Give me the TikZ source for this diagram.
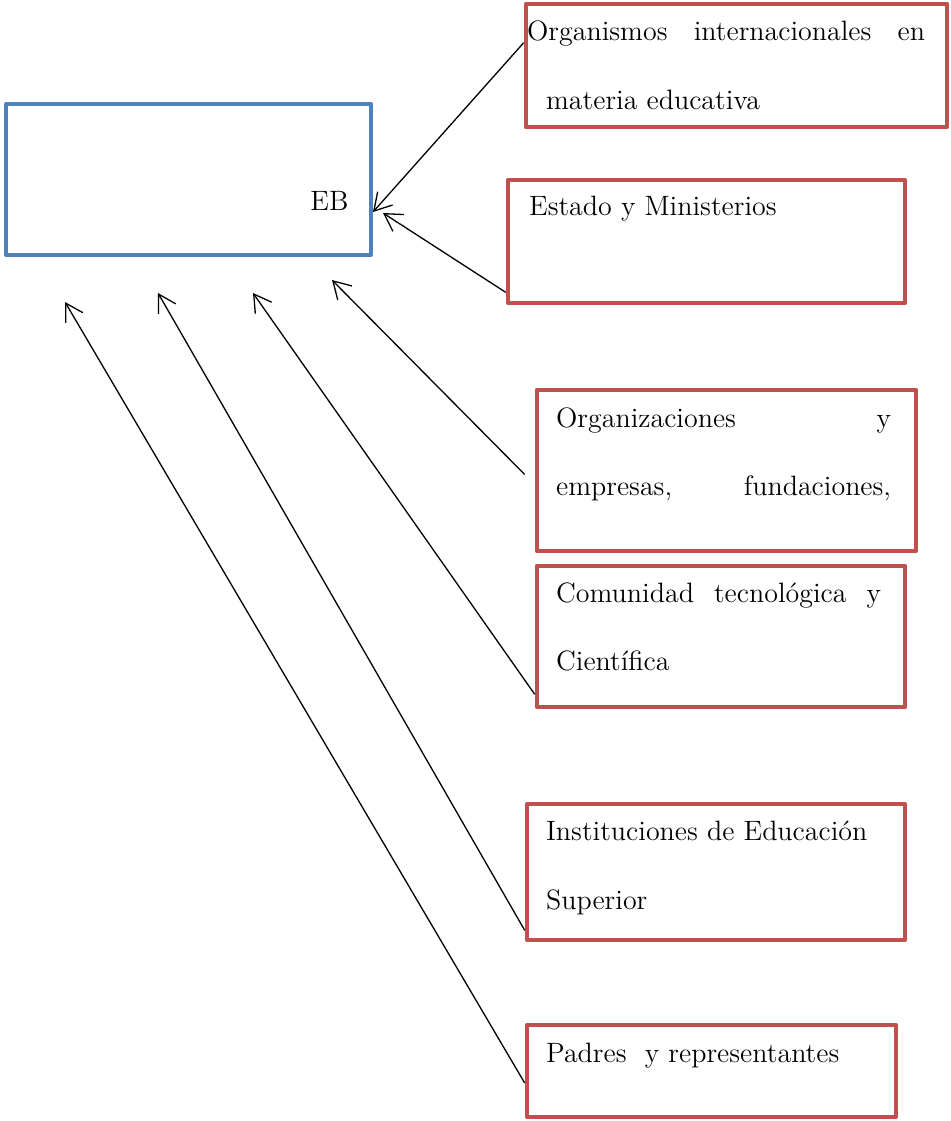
\documentclass[tikz,border=0pt]{standalone}
\usepackage{tikz}
\usetikzlibrary{calc}
\usetikzlibrary{arrows.meta}
\usetikzlibrary{positioning}
\usetikzlibrary{fit}
\definecolor{ebblue}{RGB}{79,129,189}
\definecolor{actred}{RGB}{192,80,77}
\tikzset{ebbox/.style={rectangle,draw=ebblue,line width=2pt,inner sep=0pt,line join=round}}
\tikzset{actor/.style={rectangle,draw=actred,line width=2.3pt,inner sep=0pt,line join=round}}
\tikzset{txt/.style={anchor=base west,inner sep=0pt,font=\fontsize{14}{17}\selectfont}}
\tikzset{infl/.style={line width=0.65pt,-{Straight Barb[length=8.5pt,width=10pt]}}}

\begin{document}
\begin{tikzpicture}[x=0.5pt,y=-0.5pt]
\useasboundingbox (0,0) rectangle (951,1121);

\node[ebbox, fit={(6,104) (371,255)}] (EB) {};
\node[txt] (EBt) at ($ (EB.north west) + (306,108) $) {EB};

\node[actor, fit={(526,4) (947,127)}] (A1) {};
\node[txt] (t1a) at ($ (A1.north west) + (3,39) $) {\makebox[199pt][s]{Organismos internacionales en}};
\node[txt] (t1b) at ($ (A1.north west) + (22,108) $) {materia educativa};

\node[actor, fit={(508,180) (905,303)}] (A2) {};
\node[txt] (t2a) at ($ (A2.north west) + (23,38) $) {Estado y Ministerios};

\node[actor, fit={(537,390) (916,551)}] (A3) {};
\node[txt] (t3a) at ($ (A3.north west) + (21,40) $) {\makebox[167.5pt][s]{Organizaciones y}};
\node[txt] (t3b) at ($ (A3.north west) + (21,108) $) {\makebox[167.5pt][s]{empresas, fundaciones,}};

\node[actor, fit={(537,566) (905,707)}] (A4) {};
\node[txt] (t4a) at ($ (A4.north west) + (21,39) $) {\makebox[162.5pt][s]{Comunidad tecnológica y}};
\node[txt] (t4b) at ($ (A4.north west) + (21,107) $) {Científica};

\node[actor, fit={(527,804) (905,940)}] (A5) {};
\node[txt] (t5a) at ($ (A5.north west) + (21,39) $) {Instituciones de Educación};
\node[txt] (t5b) at ($ (A5.north west) + (21,108) $) {Superior};

\node[actor, fit={(527,1025) (896,1117)}] (A6) {};
\node[txt] (t6a) at ($ (A6.north west) + (21,40) $) {Padres\ \ y representantes};

% puntas de flecha junto a EB
\coordinate (p1) at (373,212);
\coordinate (p2) at (383,213);
\coordinate (p3) at (332,280);
\coordinate (p4) at (253,293);
\coordinate (p5) at (158,293);
\coordinate (p6) at (65,302);

\draw[infl] ($ (A1.north west) + (0,41) $) -- (p1);
\draw[infl] ($ (A2.south west) + (0,-13) $) -- (p2);
\draw[infl] ($ (A3.west) + (-10,4) $) -- (p3);
\draw[infl] ($ (A4.south west) + (0,-15) $) -- (p4);
\draw[infl] ($ (A5.south west) + (0,-12) $) -- (p5);
\draw[infl] ($ (A6.west) + (0,12) $) -- (p6);
%\draw[infl] (A6.west) -- (EB.south west);

\end{tikzpicture}
\end{document}
